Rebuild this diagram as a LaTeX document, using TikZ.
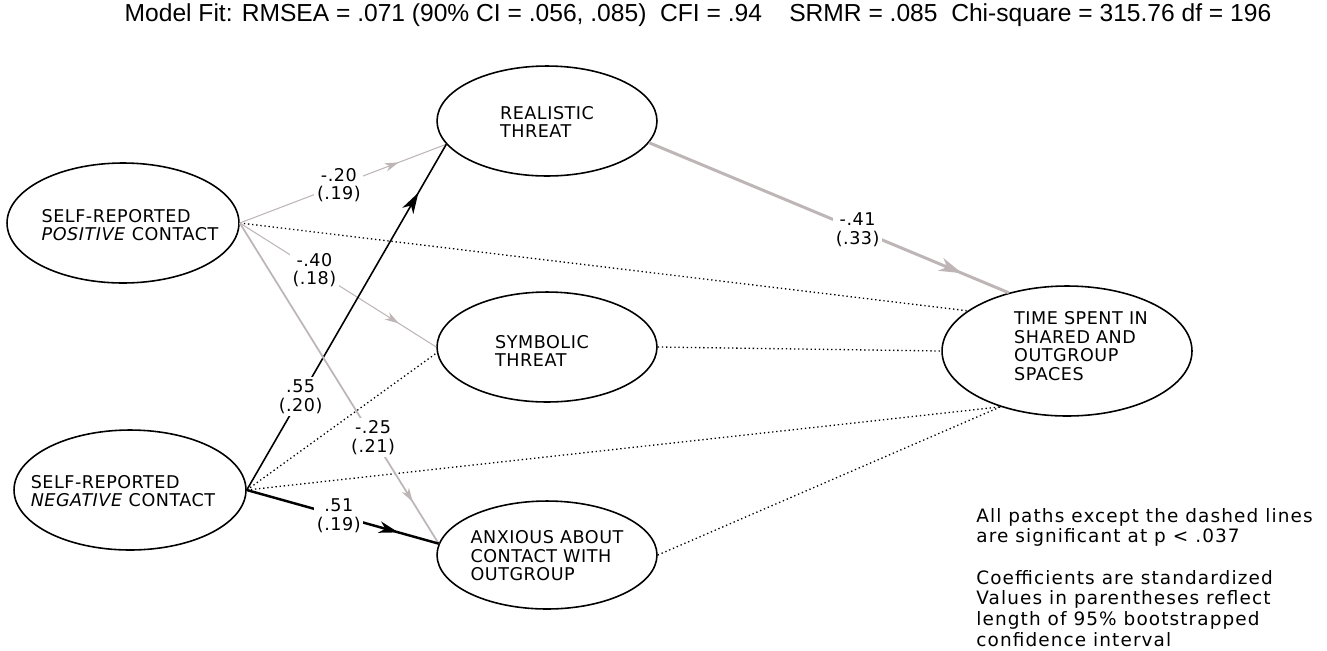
\documentclass[tikz,border=0pt]{standalone}
\usepackage{fontspec}
\setmainfont{DejaVu Sans}
\newfontfamily\diagfont[LetterSpace=3]{DejaVu Sans}
\newfontfamily\notefont[LetterSpace=6]{DejaVu Sans}
\newfontfamily\titlefont{Liberation Sans}
\usetikzlibrary{shapes.geometric,arrows.meta,decorations.markings}
\definecolor{pathgray}{RGB}{190,182,182}

\begin{document}
\begin{tikzpicture}[x=0.02cm,y=-0.02cm,
  latent/.style={draw,ellipse,line width=0.9pt,inner sep=0pt},
  lbl/.style={font=\diagfont\fontsize{10}{10.5}\selectfont,align=left,inner sep=0pt},
  coef/.style={font=\diagfont\fontsize{10}{10.5}\selectfont,align=center,fill=white,text=black,inner sep=1.5pt},
  note/.style={font=\notefont\fontsize{10.5}{11.7}\selectfont,align=left,inner sep=0pt,anchor=north west},
  midarrow/.style n args={2}{postaction={decorate},decoration={markings,mark=at position #1 with {\arrow{Stealth[length=#2,width=0.6*#2,inset=0.3*#2]}}}},
  graythin/.style={color=pathgray,line width=0.6pt},
  graymid/.style={color=pathgray,line width=1pt},
  graythick/.style={color=pathgray,line width=1.7pt},
  blackmid/.style={line width=0.9pt},
  blackthick/.style={line width=1.4pt},
  ns/.style={line width=0.75pt,dash pattern=on 0.75pt off 1.6pt}
]
\useasboundingbox (0,0) rectangle (1327,650);

\node[font=\titlefont\fontsize{14}{15}\selectfont,inner sep=0pt] (fit) at (698,15)
  {Model Fit: RMSEA = .071 (90\% CI = .056, .085)\ \ CFI = .94\ \ \ \ SRMR = .085\ \ Chi-square = 315.76 df = 196};

\node[latent,minimum width=4.64cm,minimum height=2.4cm] (pos) at (123,223) {};
\node[lbl] (posT) at (130,225) {SELF-REPORTED\\\textit{POSITIVE} CONTACT};
\node[latent,minimum width=4.64cm,minimum height=2.4cm] (neg) at (130,490) {};
\node[lbl] (negT) at (123,491) {SELF-REPORTED\\\textit{NEGATIVE} CONTACT};
\node[latent,minimum width=4.4cm,minimum height=2.2cm] (real) at (547,121) {};
\node[lbl] (realT) at (547,122) {REALISTIC\\THREAT};
\node[latent,minimum width=4.4cm,minimum height=2.2cm] (sym) at (547,347) {};
\node[lbl] (symT) at (542,351) {SYMBOLIC\\THREAT};
\node[latent,minimum width=4.4cm,minimum height=2.16cm] (anx) at (547,555) {};
\node[lbl] (anxT) at (547,556) {ANXIOUS ABOUT\\CONTACT WITH\\OUTGROUP};
\node[latent,minimum width=5cm,minimum height=2.6cm] (time) at (1067,351) {};
\node[lbl] (timeT) at (1081,346) {TIME SPENT IN\\SHARED AND\\OUTGROUP\\SPACES};

\draw[ns] (pos.east) -- (time.158);
\draw[ns] (neg.east) -- (sym.183);
\draw[ns] (neg.east) -- (time.220);
\draw[ns] (sym.east) -- (time.west);
\draw[ns] (anx.east) -- (time.220);

\draw[graythin,midarrow={0.77}{8pt}] (pos.east) -- node[coef,pos=0.48] {-.20\\(.19)} (real.193);
\draw[graythin,midarrow={0.81}{8pt}] (pos.east) -- node[coef,pos=0.38] {-.40\\(.18)} (sym.180);
\draw[blackmid,midarrow={0.86}{12pt}] (neg.east) -- node[coef,pos=0.27] {.55\\(.20)} (real.193);
\draw[graymid,midarrow={0.87}{8pt}] (pos.east) -- node[coef,pos=0.67] {-.25\\(.21)} (anx.174);
\draw[blackthick,midarrow={0.79}{11pt}] (neg.east) -- node[coef,pos=0.48] {.51\\(.19)} (anx.174);
\draw[graythick,midarrow={0.87}{13pt}] (real.-12) -- node[coef,pos=0.58] {-.41\\(.33)} (time.135);

\node[note] (sig) at (976,508) {All paths except the dashed lines\\are significant at p < .037};
\node[note] (std) at (976,570) {Coefficients are standardized\\Values in parentheses reflect\\length of 95\% bootstrapped\\confidence interval};
\end{tikzpicture}
\end{document}
